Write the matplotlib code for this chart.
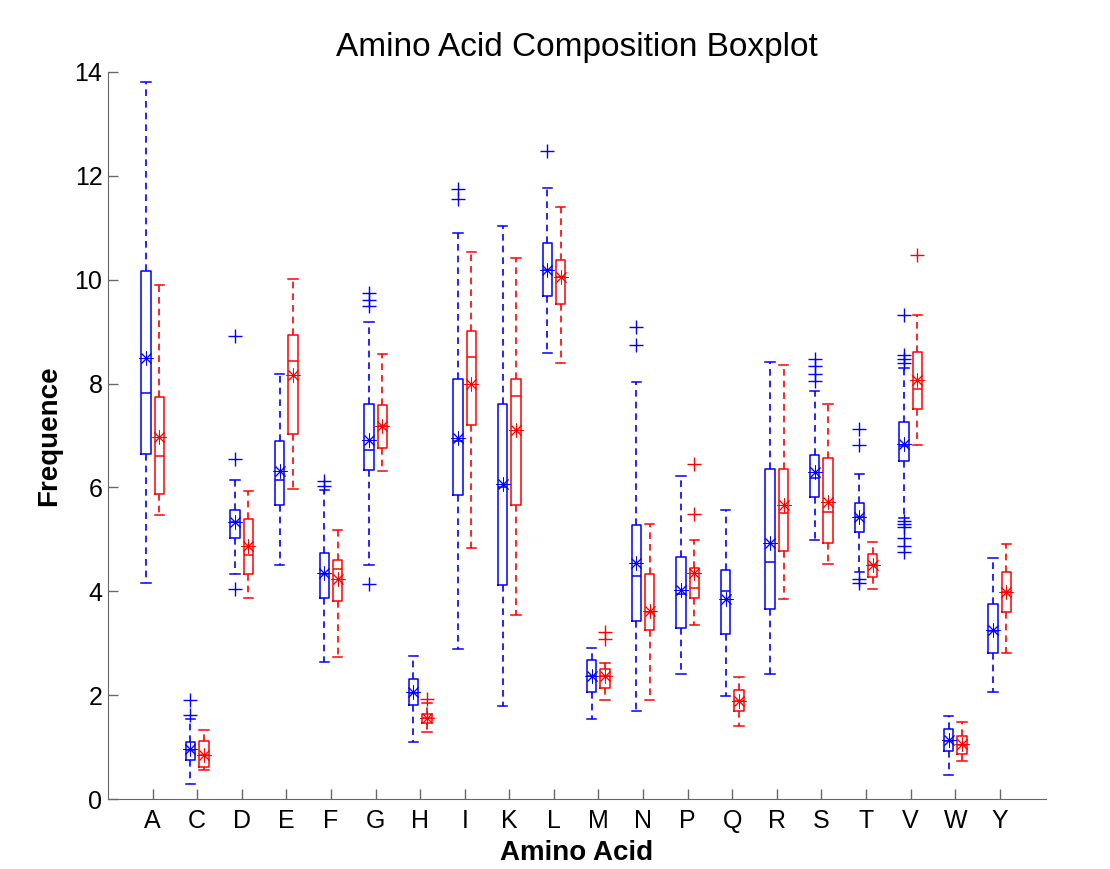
import numpy as np
import matplotlib
matplotlib.use("Agg")
import matplotlib.pyplot as plt

plt.rcParams["font.family"] = ["Liberation Sans", "DejaVu Sans"]

AMINO = ["A", "C", "D", "E", "F", "G", "H", "I", "K", "L",
         "M", "N", "P", "Q", "R", "S", "T", "V", "W", "Y"]

# blue group: lower whisker, Q1, median, Q3, upper whisker, mean, outliers
B_LO   = [4.17, 0.30, 4.34, 4.51, 2.65, 4.51, 1.10, 2.89, 1.79, 8.59,
          1.54, 1.70, 2.42, 1.99, 2.41, 4.98, 4.38, 5.42, 0.46, 2.06]
B_Q1   = [6.65, 0.75, 5.02, 5.67, 3.87, 6.34, 1.81, 5.85, 4.13, 9.69,
          2.06, 3.44, 3.29, 3.19, 3.66, 5.81, 5.14, 6.50, 0.93, 2.81]
B_MED  = [7.81, 0.95, 5.33, 6.15, 4.33, 6.73, 2.05, 6.90, 6.00, 10.18,
          2.37, 4.30, 3.95, 4.01, 4.56, 6.18, 5.43, 6.80, 1.13, 3.24]
B_Q3   = [10.16, 1.10, 5.56, 6.90, 4.74, 7.61, 2.31, 8.09, 7.61, 10.70,
          2.69, 5.27, 4.67, 4.42, 6.36, 6.63, 5.71, 7.26, 1.36, 3.76]
B_HI   = [13.80, 1.55, 6.15, 8.19, 5.95, 9.19, 2.76, 10.89, 11.04, 11.76,
          2.91, 8.03, 6.23, 5.56, 8.41, 7.85, 6.26, 8.30, 1.60, 4.65]
B_MEAN = [8.49, 0.96, 5.33, 6.31, 4.35, 6.92, 2.07, 6.95, 6.07, 10.19,
          2.37, 4.54, 4.03, 3.86, 4.94, 6.29, 5.43, 6.83, 1.14, 3.25]
B_FLIERS = [[], [1.63, 1.92], [8.91, 6.54, 4.04], [], [6.02, 6.13],
            [9.49, 9.61, 9.75, 4.14], [], [11.56, 11.74], [], [12.48],
            [], [8.74, 9.09], [], [], [], [8.05, 8.18, 8.34, 8.48],
            [6.81, 7.12, 4.24, 4.16],
            [9.31, 8.54, 8.47, 8.40, 5.35, 5.30, 5.24, 5.03, 4.88, 4.76],
            [], []]

# red group
R_LO   = [5.47, 0.56, 3.87, 5.98, 2.74, 6.31, 1.29, 4.83, 3.55, 8.40,
          1.91, 1.92, 3.36, 1.41, 3.86, 4.53, 4.04, 6.81, 0.74, 2.82]
R_Q1   = [5.87, 0.62, 4.33, 7.02, 3.82, 6.76, 1.47, 7.21, 5.66, 9.53,
          2.15, 3.25, 3.87, 1.70, 4.77, 4.94, 4.28, 7.51, 0.87, 3.61]
R_MED  = [6.60, 0.85, 4.71, 8.43, 4.43, 7.18, 1.56, 8.52, 7.76, 10.05,
          2.37, 3.60, 4.06, 1.90, 5.51, 5.53, 4.51, 7.90, 1.05, 3.98]
R_Q3   = [7.75, 1.12, 5.39, 8.93, 4.60, 7.58, 1.65, 9.02, 8.09, 10.38,
          2.50, 4.34, 4.46, 2.10, 6.36, 6.56, 4.72, 8.61, 1.21, 4.37]
R_HI   = [9.90, 1.33, 5.93, 10.02, 5.19, 8.56, 1.85, 10.53, 10.42, 11.39,
          2.63, 5.30, 4.98, 2.36, 8.35, 7.60, 4.96, 9.31, 1.49, 4.91]
R_MEAN = [6.97, 0.86, 4.88, 8.17, 4.24, 7.18, 1.56, 8.00, 7.10, 10.05,
          2.37, 3.63, 4.35, 1.90, 5.66, 5.73, 4.51, 8.07, 1.06, 3.99]
R_FLIERS = [[], [], [], [], [], [], [1.93], [], [], [],
            [3.08, 3.21], [], [5.48, 6.46], [], [], [], [], [10.47], [], []]

OFFSET = 0.15
WIDTH = 0.21


def stats(lo, q1, med, q3, hi, mean, fliers):
    return [dict(whislo=a, q1=b, med=c, q3=d, whishi=e, mean=m, fliers=f)
            for a, b, c, d, e, m, f in zip(lo, q1, med, q3, hi, mean, fliers)]


def draw(ax, st, pos, colour):
    line = dict(color=colour, linewidth=1.1)
    ax.bxp(st, positions=pos, widths=WIDTH, showmeans=True,
           boxprops=line, medianprops=line,
           whiskerprops=dict(color=colour, linewidth=1.2, linestyle=(0, (4, 3))),
           capprops=line, capwidths=WIDTH,
           flierprops=dict(marker="+", markeredgecolor=colour, markersize=10,
                           markeredgewidth=1.0, linestyle="none"),
           meanprops=dict(marker=(8, 2, 0), markeredgecolor=colour,
                          markerfacecolor=colour, markersize=10,
                          markeredgewidth=0.7, linestyle="none"),
           manage_ticks=False)


fig = plt.figure(figsize=(11.1, 8.69), dpi=100)
ax = fig.add_axes([0.0973, 0.0802, 0.8448, 0.8373])

x = np.arange(1, len(AMINO) + 1)
draw(ax, stats(B_LO, B_Q1, B_MED, B_Q3, B_HI, B_MEAN, B_FLIERS), x - OFFSET, "#0000ff")
draw(ax, stats(R_LO, R_Q1, R_MED, R_Q3, R_HI, R_MEAN, R_FLIERS), x + OFFSET, "#ff0000")

ax.set_xlim(0, 21.03)
ax.set_ylim(0, 14)
ax.set_xticks(x)
ax.set_xticklabels(AMINO)
ax.set_yticks(np.arange(0, 15, 2))
ax.tick_params(direction="in", length=7, width=1, colors="#666666",
               labelcolor="black", labelsize=18)
ax.tick_params(axis="x", pad=7)
ax.tick_params(axis="y", pad=4)
for s in ("top", "right"):
    ax.spines[s].set_visible(False)
for s in ("left", "bottom"):
    ax.spines[s].set_color("#666666")

ax.set_title("Amino Acid Composition Boxplot", fontsize=24, pad=11)
ax.set_xlabel("Amino Acid", fontsize=20, fontweight="bold", labelpad=5)
ax.set_ylabel("Frequence", fontsize=20, fontweight="bold", labelpad=9)

fig.savefig("out.png", dpi=100, facecolor="white")
